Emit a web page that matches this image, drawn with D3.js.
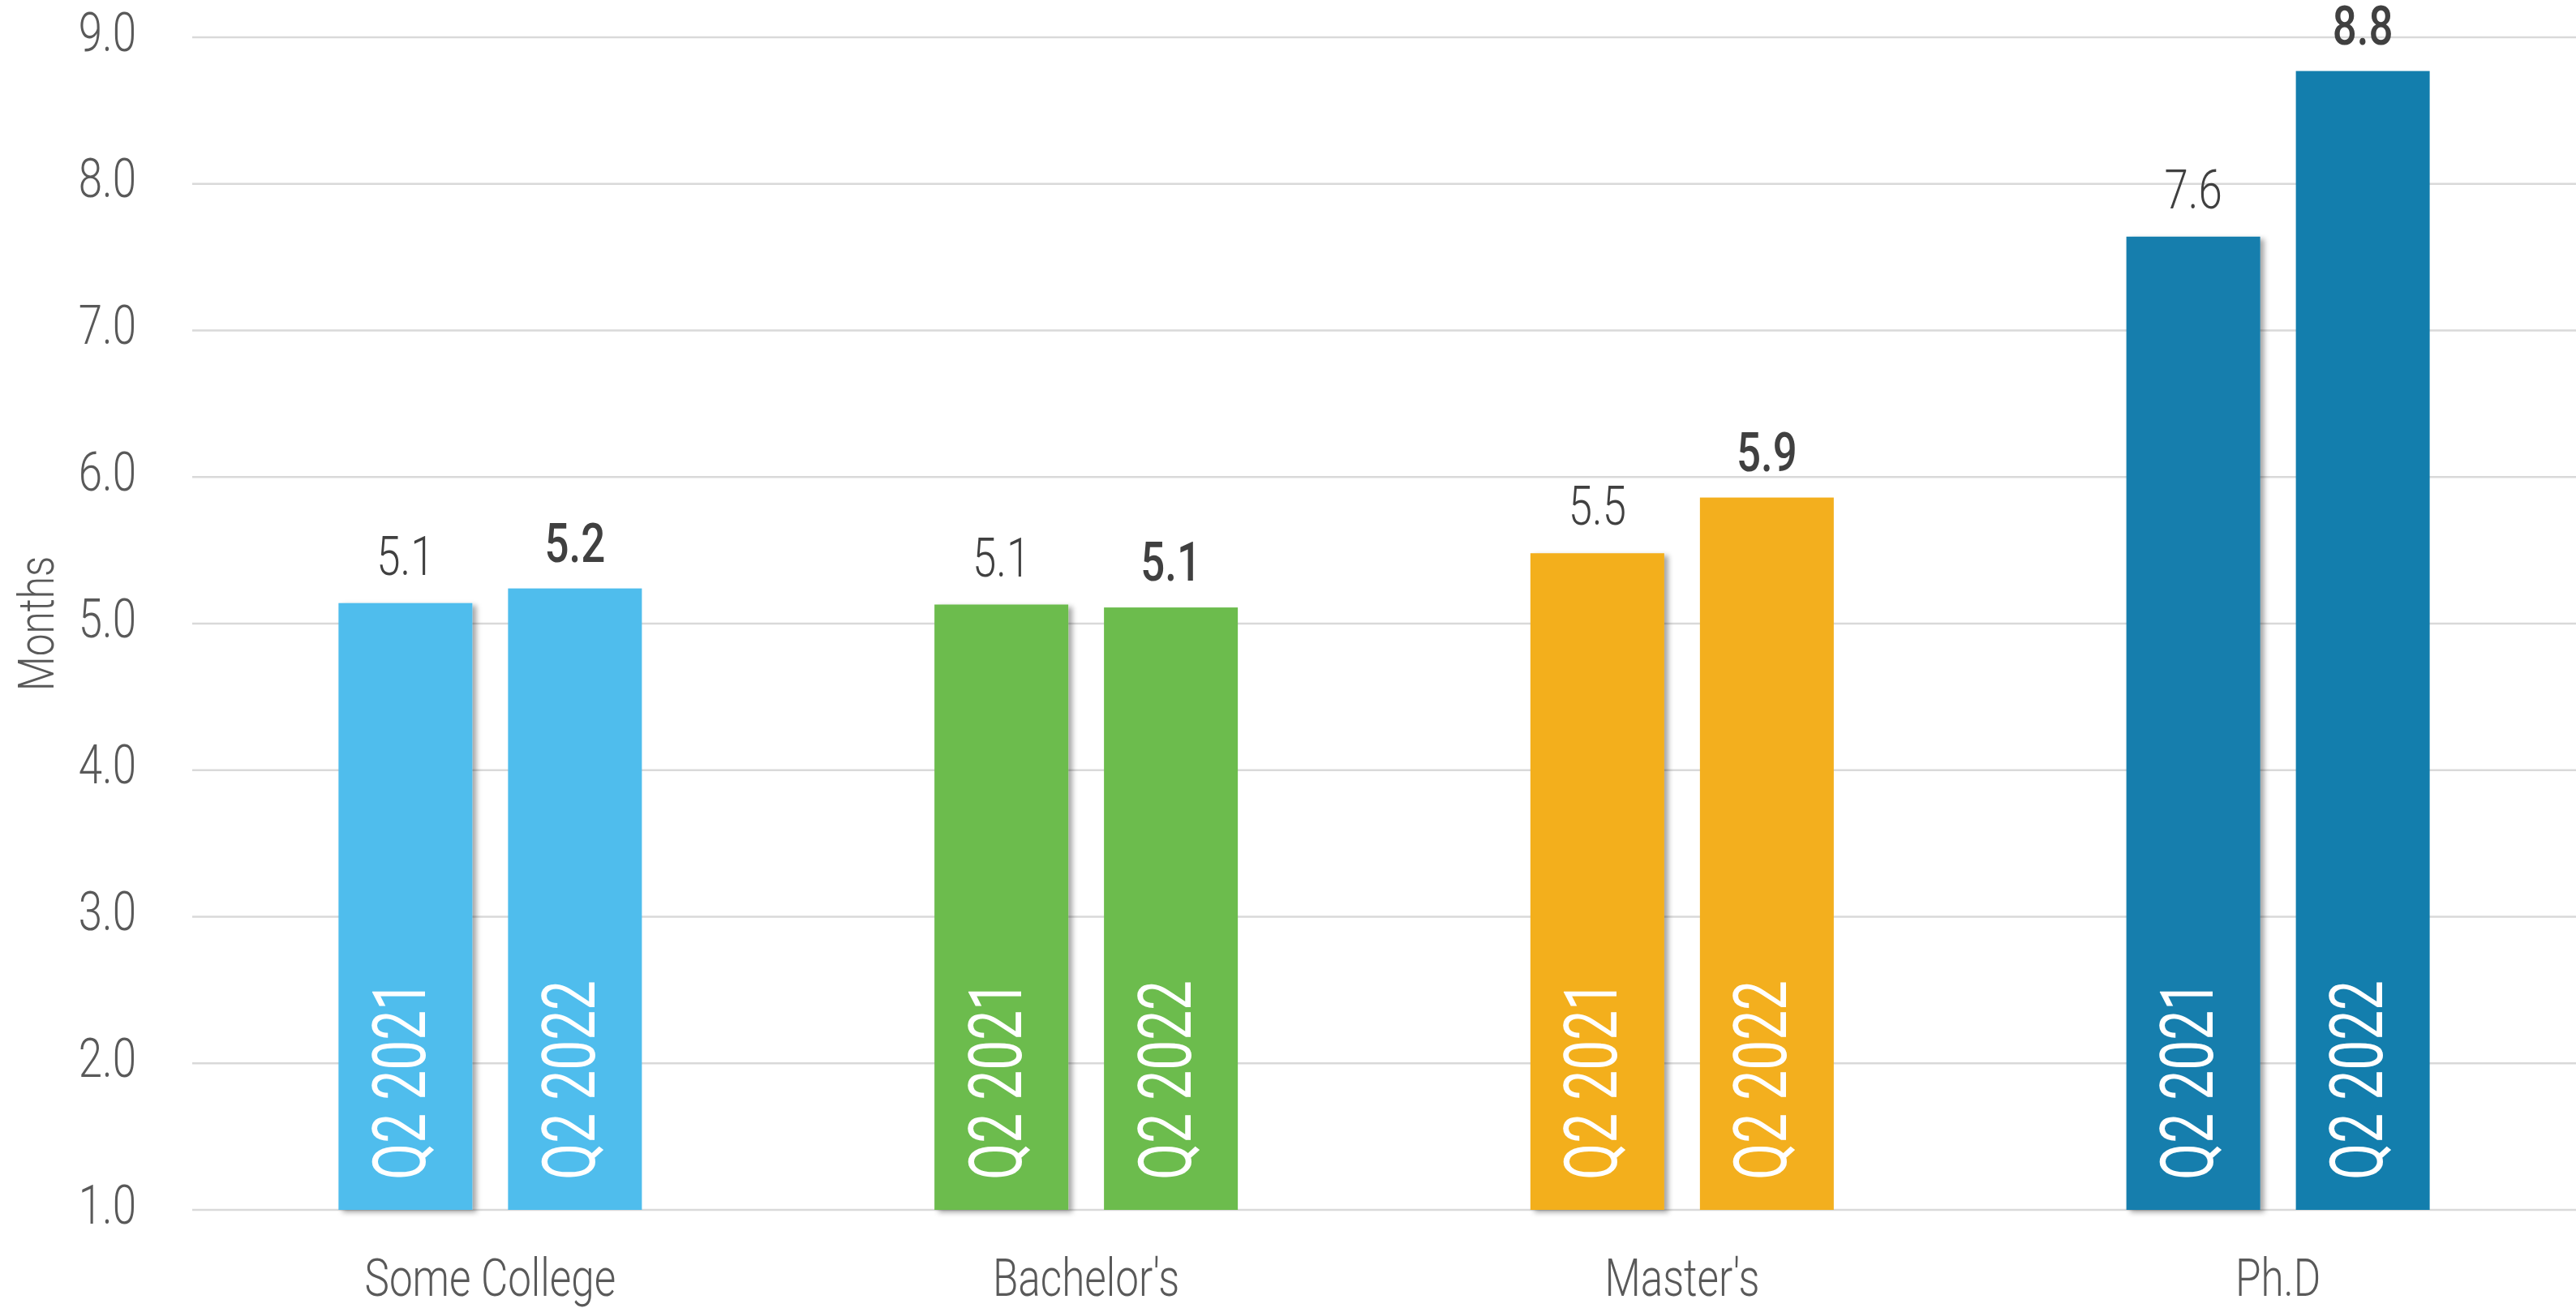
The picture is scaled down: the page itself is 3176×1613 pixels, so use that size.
<!DOCTYPE html>
<html>
<head>
<meta charset="utf-8">
<script src="https://cdn.jsdelivr.net/npm/d3@7"></script>
<style>
  html, body { margin: 0; padding: 0; background: #ffffff; }
  svg { display: block; }
</style>
</head>
<body>
<svg id="chart" width="3176" height="1613"></svg>
<script>
// Education levels along the x axis
const categories = ["Some College", "Bachelor's", "Master's", "Ph.D"];
// The two quarters compared inside each group
const series = ["Q2 2021", "Q2 2022"];
// Months, one value per category, per quarter
const valuesQ2_2021 = [5.14, 5.13, 5.48, 7.64];
const valuesQ2_2022 = [5.24, 5.11, 5.86, 8.77];
// Y axis ticks
const yTicks = [1, 2, 3, 4, 5, 6, 7, 8, 9];
// One colour per education level
const categoryColors = ["#4FBDED", "#6CBC4D", "#F3AF1E", "#137EAD"];

const W = 3176, H = 1613;
const margin = { left: 237, right: 0, top: 46, bottom: 121 };
const svg = d3.select("#chart");

const FONT = "Roboto, 'Liberation Sans', sans-serif";
const NARROW = "scale(0.8,1)";   // horizontal squeeze for a condensed look

// shadow cast by the earlier-quarter bars
const defs = svg.append("defs");
const f = defs.append("filter").attr("id", "barShadow")
  .attr("x", "-10%").attr("y", "-10%").attr("width", "130%").attr("height", "130%");
f.append("feDropShadow").attr("dx", 5).attr("dy", 3).attr("stdDeviation", 3)
  .attr("flood-color", "#000").attr("flood-opacity", 0.35);

const x0 = d3.scaleBand().domain(categories)
  .range([margin.left, W - margin.right]).paddingInner(0).paddingOuter(0);
const x1 = d3.scaleBand().domain(series)
  .range([0, 374]).paddingInner(0.2105).paddingOuter(0);
const groupOffset = (x0.bandwidth() - 374) / 2;
const y = d3.scaleLinear().domain([1, 9]).range([H - margin.bottom, margin.top]);

// gridlines
svg.append("g").selectAll("line").data(yTicks).join("line")
  .attr("x1", margin.left).attr("x2", W)
  .attr("y1", d => y(d)).attr("y2", d => y(d))
  .attr("stroke", "#d9d9d9").attr("stroke-width", 2.5);

// y axis tick labels
const yAxis = d3.axisLeft(y).tickValues(yTicks).tickFormat(d3.format(".1f")).tickSize(0).tickPadding(0);
const gy = svg.append("g").attr("transform", "translate(168,0)").call(yAxis);
gy.select(".domain").remove();
gy.selectAll("text")
  .attr("font-family", FONT).attr("font-size", 66).attr("font-weight", 300)
  .attr("fill", "#595959")
  .attr("dy", null).attr("y", 16).attr("x", 0).attr("text-anchor", "end")
  .attr("transform", NARROW);

// y axis title
svg.append("text")
  .attr("transform", `translate(66,${(y(1) + y(9)) / 2}) rotate(-90) ${NARROW}`)
  .attr("text-anchor", "middle")
  .attr("font-family", FONT).attr("font-size", 62).attr("font-weight", 300)
  .attr("fill", "#595959")
  .text("Months");

// x axis labels
const xAxis = d3.axisBottom(x0).tickSize(0).tickPadding(0);
const gx = svg.append("g").attr("transform", `translate(0,${y(1)})`).call(xAxis);
gx.select(".domain").remove();
gx.selectAll("text")
  .attr("font-family", FONT).attr("font-size", 64).attr("font-weight", 300)
  .attr("fill", "#595959")
  .attr("dy", null).attr("y", 106)
  .attr("transform", NARROW);

// bars
const rows = categories.map((c, i) => ({
  category: c, color: categoryColors[i],
  items: [
    { s: series[0], v: valuesQ2_2021[i] },
    { s: series[1], v: valuesQ2_2022[i] }
  ]
}));

const groups = svg.append("g").selectAll("g").data(rows).join("g")
  .attr("transform", d => `translate(${x0(d.category) + groupOffset},0)`);

groups.selectAll("rect").data(d => d.items.map(it => ({ ...it, color: d.color }))).join("rect")
  .attr("x", d => x1(d.s))
  .attr("width", x1.bandwidth())
  .attr("y", d => y(d.v))
  .attr("height", d => y(1) - y(d.v))
  .attr("fill", d => d.color)
  .attr("filter", d => d.s === series[0] ? "url(#barShadow)" : null);

// value labels above the bars
groups.selectAll("text.val").data(d => d.items).join("text")
  .attr("class", "val")
  .attr("transform", d =>
    `translate(${x1(d.s) + x1.bandwidth() / 2},${y(d.v) - (d.s === series[0] ? 35 : 33)}) ${NARROW}`)
  .attr("text-anchor", "middle")
  .attr("font-family", FONT).attr("font-size", 66)
  .attr("font-weight", d => d.s === series[0] ? 300 : 500)
  .attr("fill", "#404040")
  .text(d => d3.format(".1f")(d.v));

// quarter labels inside the bars
groups.selectAll("text.q").data(d => d.items).join("text")
  .attr("class", "q")
  .attr("transform", d => `translate(${x1(d.s) + x1.bandwidth() / 2 + 24},${y(1) - 37}) rotate(-90)`)
  .attr("text-anchor", "start")
  .attr("font-family", FONT).attr("font-size", 90)
  .attr("fill", "#ffffff")
  .attr("textLength", 246).attr("lengthAdjust", "spacingAndGlyphs")
  .text(d => d.s);
</script>
</body>
</html>
